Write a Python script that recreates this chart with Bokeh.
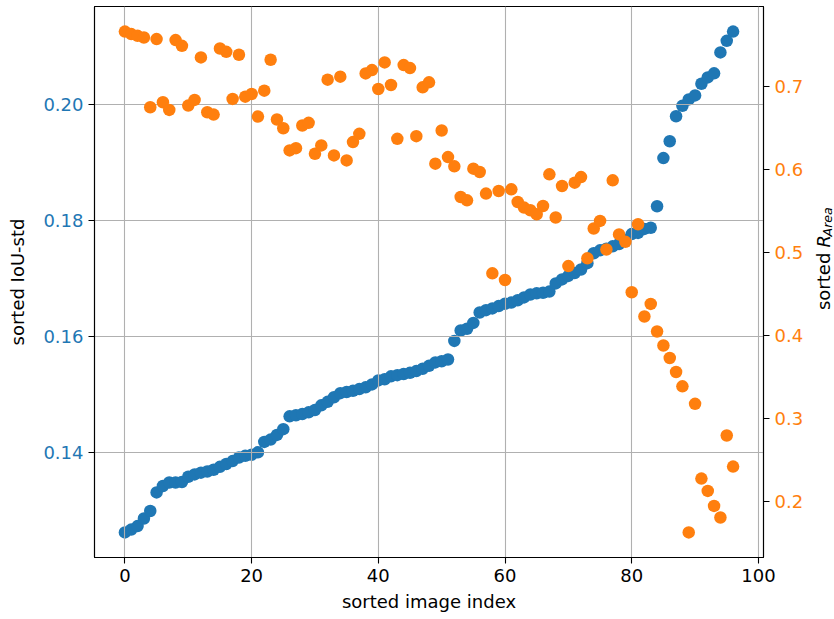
import math
from bokeh.plotting import figure
from bokeh.layouts import row
from bokeh.models import (Range1d, LinearAxis, SingleIntervalTicker,
                          NumeralTickFormatter)
from bokeh.core.properties import value
from bokeh.embed import file_html
from bokeh.resources import INLINE

# ---------------- data ----------------
image_index = list(range(97))

iou_std = [
    0.1263, 0.1268, 0.1274, 0.1287, 0.1300, 0.1332, 0.1343, 0.1349, 0.1349, 0.1350,
    0.1359, 0.1363, 0.1366, 0.1368, 0.1371, 0.1376, 0.1381, 0.1386, 0.1392, 0.1395,
    0.1397, 0.1401, 0.1419, 0.1423, 0.1431, 0.1441, 0.1463, 0.1465, 0.1467, 0.1470,
    0.1474, 0.1482, 0.1488, 0.1496, 0.1503, 0.1505, 0.1507, 0.1510, 0.1513, 0.1518,
    0.1525, 0.1527, 0.1532, 0.1534, 0.1536, 0.1538, 0.1541, 0.1545, 0.1550, 0.1556,
    0.1558, 0.1561, 0.1593, 0.1611, 0.1614, 0.1624, 0.1642, 0.1646, 0.1649, 0.1653,
    0.1657, 0.1659, 0.1663, 0.1668, 0.1673, 0.1675, 0.1676, 0.1678, 0.1692, 0.1699,
    0.1705, 0.1710, 0.1716, 0.1727, 0.1744, 0.1749, 0.1752, 0.1756, 0.1760, 0.1767,
    0.1777, 0.1779, 0.1786, 0.1788, 0.1825, 0.1908, 0.1937, 0.1980, 0.1998, 0.2009,
    0.2016, 0.2036, 0.2047, 0.2054, 0.2090, 0.2110, 0.2126,
]

r_area = [
    0.7658, 0.7627, 0.7606, 0.7586, 0.6746, 0.7567, 0.6806, 0.6714, 0.7555, 0.7486,
    0.6766, 0.6834, 0.7346, 0.6686, 0.6658, 0.7454, 0.7414, 0.6846, 0.7378, 0.6874,
    0.6906, 0.6634, 0.6946, 0.7318, 0.6598, 0.6493, 0.6226, 0.6253, 0.6526, 0.6558,
    0.6186, 0.6286, 0.7078, 0.6166, 0.7114, 0.6106, 0.6326, 0.6426, 0.7154, 0.7194,
    0.6966, 0.7286, 0.7014, 0.6366, 0.7254, 0.7218, 0.6398, 0.6986, 0.7046, 0.6066,
    0.6466, 0.6146, 0.6034, 0.5665, 0.5625, 0.6006, 0.5966, 0.5706, 0.4745, 0.5737,
    0.4665, 0.5757, 0.5605, 0.5537, 0.5505, 0.5457, 0.5557, 0.5938, 0.5418, 0.5797,
    0.4833, 0.5838, 0.5905, 0.4926, 0.5286, 0.5377, 0.5033, 0.5866, 0.5214, 0.5125,
    0.4517, 0.5337, 0.4225, 0.4377, 0.4045, 0.3876, 0.3725, 0.3557, 0.3384, 0.1624,
    0.3173, 0.2273, 0.2124, 0.1944, 0.1804, 0.2792, 0.2417,
]

x_tick_step = 20
left_tick_step = 0.02
right_tick_step = 0.1
x_title = "sorted image index"
left_title = "sorted IoU-std"
right_title_main = "sorted"
right_title_sym = "R"
right_title_sub = "Area"

# ---------------- style ----------------
BLUE = "#1f77b4"
ORANGE = "#ff7f0e"
GRID = "#b0b0b0"
FONT = "DejaVu Sans"
FS = 18

PAGE_W, PAGE_H = 834, 619
W, H = 806, PAGE_H          # main figure
SIDE_W = PAGE_W - W         # narrow strip holding the right-hand title
BL, BR, BT, BB = 94, 40, 6, 62
FH = H - BT - BB


def padded(vals, frac=0.05):
    lo, hi = min(vals), max(vals)
    m = (hi - lo) * frac
    return lo - m, hi + m


xlo, xhi = padded(image_index)
ylo, yhi = padded(iou_std)
rlo, rhi = padded(r_area)

p = figure(width=W, height=H, x_range=Range1d(xlo, xhi), y_range=Range1d(ylo, yhi),
           output_backend="svg", toolbar_location=None,
           min_border_left=BL, min_border_right=BR, min_border_top=BT,
           min_border_bottom=BB, background_fill_color="white",
           border_fill_color="white")
p.extra_y_ranges = {"right": Range1d(rlo, rhi)}

p.outline_line_color = "black"
p.outline_line_width = 1.1


def style_axis(ax, label_color):
    ax.axis_line_color = "black"
    ax.axis_line_width = 1.1
    ax.major_tick_line_color = "black"
    ax.major_tick_line_width = 1.1
    ax.major_tick_out = 6
    ax.major_tick_in = 0
    ax.minor_tick_line_color = None
    ax.major_label_text_font = FONT
    ax.major_label_text_font_size = f"{FS}px"
    ax.major_label_text_color = label_color
    ax.major_label_standoff = 5
    ax.axis_label_text_font = FONT
    ax.axis_label_text_font_size = f"{FS}px"
    ax.axis_label_text_font_style = "normal"
    ax.axis_label_text_color = "black"


xa = p.xaxis[0]
style_axis(xa, "black")
xa.ticker = SingleIntervalTicker(interval=x_tick_step, num_minor_ticks=0)
xa.axis_label = x_title
xa.axis_label_standoff = 6

ya = p.yaxis[0]
style_axis(ya, BLUE)
ya.ticker = SingleIntervalTicker(interval=left_tick_step, num_minor_ticks=0)
ya.formatter = NumeralTickFormatter(format="0.00")
ya.axis_label = left_title
ya.axis_label_standoff = 12

ra = LinearAxis(y_range_name="right",
                ticker=SingleIntervalTicker(interval=right_tick_step, num_minor_ticks=0),
                formatter=NumeralTickFormatter(format="0.0"))
style_axis(ra, ORANGE)
p.add_layout(ra, "right")

for g in (p.xgrid[0], p.ygrid[0]):
    g.grid_line_color = GRID
    g.grid_line_width = 1.1

# points: blue below the grid, orange above (matplotlib twin-axes order)
p.scatter(image_index, iou_std, size=12.5, fill_color=BLUE, line_color=None,
          level="image")
p.scatter(image_index, r_area, size=12.5, fill_color=ORANGE, line_color=None,
          y_range_name="right", level="glyph")

# ---------- right-hand title "sorted R_Area" in a narrow side strip ----------
# side strip coordinates: x = pixels from strip's left, y = pixels from bottom
side = figure(width=SIDE_W, height=H, x_range=Range1d(0, SIDE_W),
              y_range=Range1d(0, H), output_backend="svg", toolbar_location=None,
              min_border=0, x_axis_location=None, y_axis_location=None,
              outline_line_color=None, background_fill_color="white",
              border_fill_color="white")
side.grid.visible = False

w_main = FS * 3.186
w_space = FS * 0.318
w_sym = FS * 0.695
sub_fs = FS * 0.7
w_sub = sub_fs * 2.323
total = w_main + w_space + w_sym + w_sub
center_from_bottom = BB + FH / 2
r_start = center_from_bottom - total / 2 + w_main + w_space
base_main = 823 - W
base_sub = 827 - W

common = dict(angle=math.pi / 2, text_baseline="alphabetic",
              text_font=value(FONT), text_color="black")
side.text(x=[base_main], y=[r_start - w_space], text=[right_title_main],
          text_align="right", text_font_size=f"{FS}px", **common)
side.text(x=[base_main], y=[r_start], text=[right_title_sym], text_align="left",
          text_font_size=f"{FS}px", text_font_style="italic", **common)
side.text(x=[base_sub], y=[r_start + w_sym], text=[right_title_sub],
          text_align="left", text_font_size=f"{sub_fs:.1f}px",
          text_font_style="italic", **common)

layout = row(p, side, spacing=0)
open("out.html", "w").write(file_html(layout, INLINE))
